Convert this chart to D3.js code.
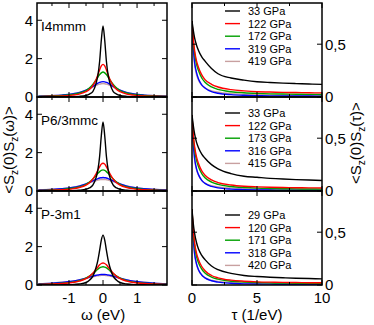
<!DOCTYPE html>
<html>
<head>
<meta charset="utf-8">
<script src="https://cdn.jsdelivr.net/npm/d3@7"></script>
<style>
  body { margin: 0; background: #fff; }
  svg { display: block; font-family: "Liberation Sans", Arial, sans-serif; }
</style>
</head>
<body>
<div id="chart"></div>
<script>
// ---- data ----
const omega = [-1.9, -1.5, -1.2, -0.9, -0.7, -0.5, -0.4, -0.3, -0.2, -0.15, -0.1, -0.05, 0,
               0.05, 0.1, 0.15, 0.2, 0.3, 0.4, 0.5, 0.7, 0.9, 1.2, 1.5, 1.9];
const tau = [0, 0.1, 0.2, 0.35, 0.5, 0.75, 1, 1.5, 2, 3, 4, 5, 6, 7, 8, 9, 10];

const seriesColors = ['#000000', '#ff0000', '#00a000', '#0000ff', '#c8a0a0'];

const phases = ['I4mmm', 'P6/3mmc', 'P-3m1'];
const pressuresI4 = ['33 GPa', '122 GPa', '172 GPa', '319 GPa', '419 GPa'];
const pressuresP6 = ['33 GPa', '122 GPa', '173 GPa', '316 GPa', '415 GPa'];
const pressuresP3 = ['29 GPa', '120 GPa', '171 GPa', '318 GPa', '420 GPa'];

// S(omega), I4mmm
const specI4 = [
  [0, 0, 0, 0.01, 0.03, 0.08, 0.15, 0.28, 0.74, 1.14, 1.85, 2.96, 3.7, 2.96, 1.85, 1.14, 0.74, 0.28, 0.15, 0.08, 0.03, 0.01, 0, 0, 0],
  [0.022, 0.036, 0.055, 0.096, 0.15, 0.28, 0.39, 0.59, 0.93, 1.16, 1.41, 1.62, 1.7, 1.62, 1.41, 1.16, 0.93, 0.59, 0.39, 0.28, 0.15, 0.096, 0.055, 0.036, 0.022],
  [0.032, 0.05, 0.076, 0.13, 0.2, 0.34, 0.47, 0.65, 0.9, 1.04, 1.17, 1.26, 1.3, 1.26, 1.17, 1.04, 0.9, 0.65, 0.47, 0.34, 0.2, 0.13, 0.076, 0.05, 0.032],
  [0.043, 0.066, 0.1, 0.16, 0.23, 0.36, 0.45, 0.55, 0.67, 0.72, 0.76, 0.79, 0.8, 0.79, 0.76, 0.72, 0.67, 0.55, 0.45, 0.36, 0.23, 0.16, 0.1, 0.066, 0.043],
  [0.045, 0.07, 0.1, 0.165, 0.24, 0.35, 0.43, 0.51, 0.6, 0.64, 0.67, 0.69, 0.7, 0.69, 0.67, 0.64, 0.6, 0.51, 0.43, 0.35, 0.24, 0.165, 0.1, 0.07, 0.045]
];
// S(omega), P6/3mmc
const specP6 = [
  [0, 0, 0.01, 0.02, 0.04, 0.09, 0.16, 0.3, 0.72, 1.11, 1.8, 2.88, 3.6, 2.88, 1.8, 1.11, 0.72, 0.3, 0.16, 0.09, 0.04, 0.02, 0.01, 0, 0],
  [0.027, 0.042, 0.065, 0.11, 0.18, 0.31, 0.43, 0.62, 0.91, 1.09, 1.26, 1.4, 1.45, 1.4, 1.26, 1.09, 0.91, 0.62, 0.43, 0.31, 0.18, 0.11, 0.065, 0.042, 0.027],
  [0.034, 0.054, 0.082, 0.14, 0.21, 0.35, 0.46, 0.62, 0.82, 0.92, 1.01, 1.08, 1.1, 1.08, 1.01, 0.92, 0.82, 0.62, 0.46, 0.35, 0.21, 0.14, 0.082, 0.054, 0.034],
  [0.051, 0.078, 0.114, 0.18, 0.255, 0.37, 0.45, 0.53, 0.61, 0.65, 0.68, 0.69, 0.7, 0.69, 0.68, 0.65, 0.61, 0.53, 0.45, 0.37, 0.255, 0.18, 0.114, 0.078, 0.051],
  [0.058, 0.088, 0.126, 0.19, 0.26, 0.36, 0.42, 0.49, 0.54, 0.57, 0.585, 0.6, 0.6, 0.6, 0.585, 0.57, 0.54, 0.49, 0.42, 0.36, 0.26, 0.19, 0.126, 0.088, 0.058]
];
// S(omega), P-3m1
const specP3 = [
  [0, 0, 0.01, 0.02, 0.05, 0.13, 0.25, 0.45, 0.94, 1.3, 1.8, 2.34, 2.6, 2.34, 1.8, 1.3, 0.94, 0.45, 0.25, 0.13, 0.05, 0.02, 0.01, 0, 0],
  [0.032, 0.05, 0.076, 0.13, 0.2, 0.33, 0.45, 0.61, 0.83, 0.94, 1.05, 1.12, 1.15, 1.12, 1.05, 0.94, 0.83, 0.61, 0.45, 0.33, 0.2, 0.13, 0.076, 0.05, 0.032],
  [0.038, 0.06, 0.091, 0.15, 0.225, 0.36, 0.46, 0.6, 0.75, 0.83, 0.89, 0.93, 0.95, 0.93, 0.89, 0.83, 0.75, 0.6, 0.46, 0.36, 0.225, 0.15, 0.091, 0.06, 0.038],
  [0.062, 0.094, 0.134, 0.2, 0.27, 0.36, 0.41, 0.46, 0.51, 0.52, 0.54, 0.55, 0.55, 0.55, 0.54, 0.52, 0.51, 0.46, 0.41, 0.36, 0.27, 0.2, 0.134, 0.094, 0.062],
  [0.067, 0.1, 0.14, 0.205, 0.27, 0.35, 0.39, 0.43, 0.47, 0.48, 0.49, 0.5, 0.5, 0.5, 0.49, 0.48, 0.47, 0.43, 0.39, 0.35, 0.27, 0.205, 0.14, 0.1, 0.067]
];

// C(tau), I4mmm
const corrI4 = [
  [0.72, 0.63, 0.56, 0.49, 0.44, 0.38, 0.34, 0.27, 0.22, 0.18, 0.16, 0.145, 0.137, 0.131, 0.127, 0.123, 0.12],
  [0.72, 0.55, 0.44, 0.34, 0.28, 0.21, 0.165, 0.12, 0.095, 0.07, 0.058, 0.05, 0.047, 0.044, 0.042, 0.04, 0.039],
  [0.72, 0.53, 0.41, 0.31, 0.25, 0.18, 0.14, 0.095, 0.072, 0.05, 0.04, 0.034, 0.03, 0.028, 0.026, 0.025, 0.024],
  [0.72, 0.47, 0.33, 0.23, 0.17, 0.115, 0.085, 0.05, 0.035, 0.022, 0.016, 0.013, 0.011, 0.01, 0.009, 0.009, 0.008],
  [0.72, 0.45, 0.31, 0.21, 0.16, 0.11, 0.085, 0.058, 0.045, 0.032, 0.026, 0.022, 0.02, 0.019, 0.018, 0.017, 0.016]
];
// C(tau), P6/3mmc
const corrP6 = [
  [0.72, 0.62, 0.54, 0.46, 0.41, 0.35, 0.31, 0.25, 0.21, 0.165, 0.14, 0.13, 0.12, 0.113, 0.108, 0.104, 0.1],
  [0.72, 0.53, 0.42, 0.32, 0.26, 0.19, 0.15, 0.105, 0.08, 0.057, 0.045, 0.039, 0.035, 0.033, 0.031, 0.03, 0.029],
  [0.72, 0.51, 0.39, 0.29, 0.23, 0.165, 0.125, 0.085, 0.063, 0.043, 0.033, 0.027, 0.024, 0.022, 0.02, 0.019, 0.018],
  [0.72, 0.45, 0.31, 0.21, 0.155, 0.1, 0.072, 0.043, 0.03, 0.018, 0.013, 0.01, 0.009, 0.008, 0.007, 0.007, 0.006],
  [0.72, 0.44, 0.3, 0.2, 0.15, 0.1, 0.075, 0.05, 0.038, 0.027, 0.021, 0.018, 0.016, 0.015, 0.014, 0.013, 0.013]
];
// C(tau), P-3m1
const corrP3 = [
  [0.72, 0.58, 0.49, 0.4, 0.34, 0.28, 0.24, 0.18, 0.145, 0.11, 0.09, 0.08, 0.073, 0.068, 0.064, 0.061, 0.058],
  [0.72, 0.52, 0.4, 0.3, 0.24, 0.175, 0.135, 0.09, 0.068, 0.046, 0.036, 0.03, 0.027, 0.025, 0.023, 0.022, 0.021],
  [0.72, 0.5, 0.37, 0.27, 0.21, 0.15, 0.113, 0.075, 0.055, 0.036, 0.028, 0.023, 0.02, 0.018, 0.017, 0.016, 0.015],
  [0.72, 0.44, 0.3, 0.2, 0.145, 0.095, 0.068, 0.04, 0.027, 0.016, 0.011, 0.009, 0.008, 0.007, 0.006, 0.006, 0.005],
  [0.72, 0.43, 0.29, 0.19, 0.14, 0.093, 0.068, 0.045, 0.034, 0.024, 0.019, 0.016, 0.014, 0.013, 0.012, 0.012, 0.011]
];

const omegaTicks = [-1, 0, 1];
const omegaMinor = [-1.5, -0.5, 0.5, 1.5];
const specTicks = [0, 2, 4];
const tauTicks = [0, 5, 10];
const tauMinor = [2.5, 7.5];
const corrTicks = [0, 0.5];

const spectra = [specI4, specP6, specP3];
const correlations = [corrI4, corrP6, corrP3];
const pressures = [pressuresI4, pressuresP6, pressuresP3];

// ---- layout ----
const W = 374, H = 325;
const panelTop = [3, 97, 191];
const panelH = 94;
const leftX = [37, 167];
const rightX = [192, 322];
const legendTop = [11, 113, 215];

const svg = d3.select('#chart').append('svg')
  .attr('width', W).attr('height', H);

const xOmega = d3.scaleLinear().domain([-1.94, 1.88]).range(leftX);
const xTau = d3.scaleLinear().domain([0, 10]).range(rightX);

svg.append('defs').selectAll('clipPath')
  .data(d3.range(6))
  .join('clipPath')
  .attr('id', i => 'clip' + i)
  .append('rect')
  .attr('x', i => i < 3 ? leftX[0] : rightX[0])
  .attr('y', i => panelTop[i % 3])
  .attr('width', 130)
  .attr('height', panelH);

function frameTicks(g, x, y, xMajor, xMinor, yMajor, x0, x1, y0, y1) {
  const tk = g.append('g').attr('stroke', '#000').attr('stroke-width', 1);
  xMajor.forEach(v => {
    tk.append('line').attr('x1', x(v)).attr('x2', x(v)).attr('y1', y1).attr('y2', y1 - 5);
    tk.append('line').attr('x1', x(v)).attr('x2', x(v)).attr('y1', y0).attr('y2', y0 + 5);
  });
  xMinor.forEach(v => {
    tk.append('line').attr('x1', x(v)).attr('x2', x(v)).attr('y1', y1).attr('y2', y1 - 3);
    tk.append('line').attr('x1', x(v)).attr('x2', x(v)).attr('y1', y0).attr('y2', y0 + 3);
  });
  yMajor.forEach(v => {
    tk.append('line').attr('x1', x0).attr('x2', x0 + 5).attr('y1', y(v)).attr('y2', y(v));
    tk.append('line').attr('x1', x1).attr('x2', x1 - 5).attr('y1', y(v)).attr('y2', y(v));
  });
}

phases.forEach((phase, p) => {
  const y0 = panelTop[p], y1 = panelTop[p] + panelH;
  const ySpec = d3.scaleLinear().domain([0, 4.9]).range([y1, y0]);
  const yCorr = d3.scaleLinear().domain([0, 0.89]).range([y1, y0]);

  // left: spectra
  const gl = svg.append('g');
  const lineS = d3.line().x((d, i) => xOmega(omega[i])).y(d => ySpec(d)).curve(d3.curveMonotoneX);
  gl.append('g').attr('clip-path', `url(#clip${p})`)
    .selectAll('path').data(spectra[p].slice().reverse()).join('path')
    .attr('d', lineS)
    .attr('fill', 'none')
    .attr('stroke', (d, i) => seriesColors[4 - i])
    .attr('stroke-width', 1.4);
  frameTicks(gl, xOmega, ySpec, omegaTicks, omegaMinor, specTicks, leftX[0], leftX[1], y0, y1);
  gl.append('rect').attr('x', leftX[0]).attr('y', y0).attr('width', leftX[1] - leftX[0]).attr('height', panelH)
    .attr('fill', 'none').attr('stroke', '#000').attr('stroke-width', 1.5);
  gl.selectAll('text.yt').data(specTicks).join('text')
    .attr('x', 33).attr('y', d => ySpec(d)).attr('dy', '0.36em')
    .attr('text-anchor', 'end').attr('font-size', 15).text(d => d);
  gl.append('text').attr('x', 41).attr('y', y0 + 23).attr('dy', '0.36em')
    .attr('font-size', 13.5).text(phase);

  // right: correlations
  const gr = svg.append('g');
  const lineC = d3.line().x((d, i) => xTau(tau[i])).y(d => yCorr(d)).curve(d3.curveMonotoneX);
  gr.append('g').attr('clip-path', `url(#clip${p + 3})`)
    .selectAll('path').data(correlations[p].slice().reverse()).join('path')
    .attr('d', lineC)
    .attr('fill', 'none')
    .attr('stroke', (d, i) => seriesColors[4 - i])
    .attr('stroke-width', 1.4);
  frameTicks(gr, xTau, yCorr, tauTicks, tauMinor, corrTicks, rightX[0], rightX[1], y0, y1);
  gr.append('rect').attr('x', rightX[0]).attr('y', y0).attr('width', rightX[1] - rightX[0]).attr('height', panelH)
    .attr('fill', 'none').attr('stroke', '#000').attr('stroke-width', 1.5);
  gr.selectAll('text.yt').data(corrTicks).join('text')
    .attr('x', 325).attr('y', d => yCorr(d)).attr('dy', '0.36em')
    .attr('font-size', 15).text(d => d === 0 ? '0' : '0,5');

  // legend
  const lg = gr.append('g');
  pressures[p].forEach((lab, i) => {
    const yy = legendTop[p] + i * 12.6;
    lg.append('line').attr('x1', 225).attr('x2', 240).attr('y1', yy).attr('y2', yy)
      .attr('stroke', seriesColors[i]).attr('stroke-width', 1.4);
    lg.append('text').attr('x', 248).attr('y', yy).attr('dy', '0.36em')
      .attr('font-size', 11).text(lab);
  });
});

// bottom tick labels
const yb = panelTop[2] + panelH;
svg.selectAll('text.xo').data(omegaTicks).join('text')
  .attr('x', d => xOmega(d)).attr('y', yb + 13).attr('dy', '0.36em')
  .attr('text-anchor', 'middle').attr('font-size', 15).text(d => d);
svg.selectAll('text.xt').data(tauTicks).join('text')
  .attr('x', d => xTau(d)).attr('y', yb + 13).attr('dy', '0.36em')
  .attr('text-anchor', 'middle').attr('font-size', 15).text(d => d);

svg.append('text').attr('x', xOmega(0)).attr('y', 315).attr('dy', '0.36em')
  .attr('text-anchor', 'middle').attr('font-size', 15).text('ω (eV)');
svg.append('text').attr('x', xTau(5)).attr('y', 315).attr('dy', '0.36em')
  .attr('text-anchor', 'middle').attr('font-size', 15).text('τ (1/eV)');

// axis titles with subscripts
function corrLabel(x, y, sym) {
  const t = svg.append('text')
    .attr('transform', `translate(${x},${y}) rotate(-90)`)
    .attr('text-anchor', 'middle').attr('dy', '0.36em').attr('font-size', 15);
  t.append('tspan').text('<S');
  t.append('tspan').attr('font-size', 10).attr('dy', 4).text('z');
  t.append('tspan').attr('dy', -4).text('(0)S');
  t.append('tspan').attr('font-size', 10).attr('dy', 4).text('z');
  t.append('tspan').attr('dy', -4).text(`(${sym})>`);
}
corrLabel(9, 150, 'ω');
corrLabel(356, 143, 'τ');
</script>
</body>
</html>
